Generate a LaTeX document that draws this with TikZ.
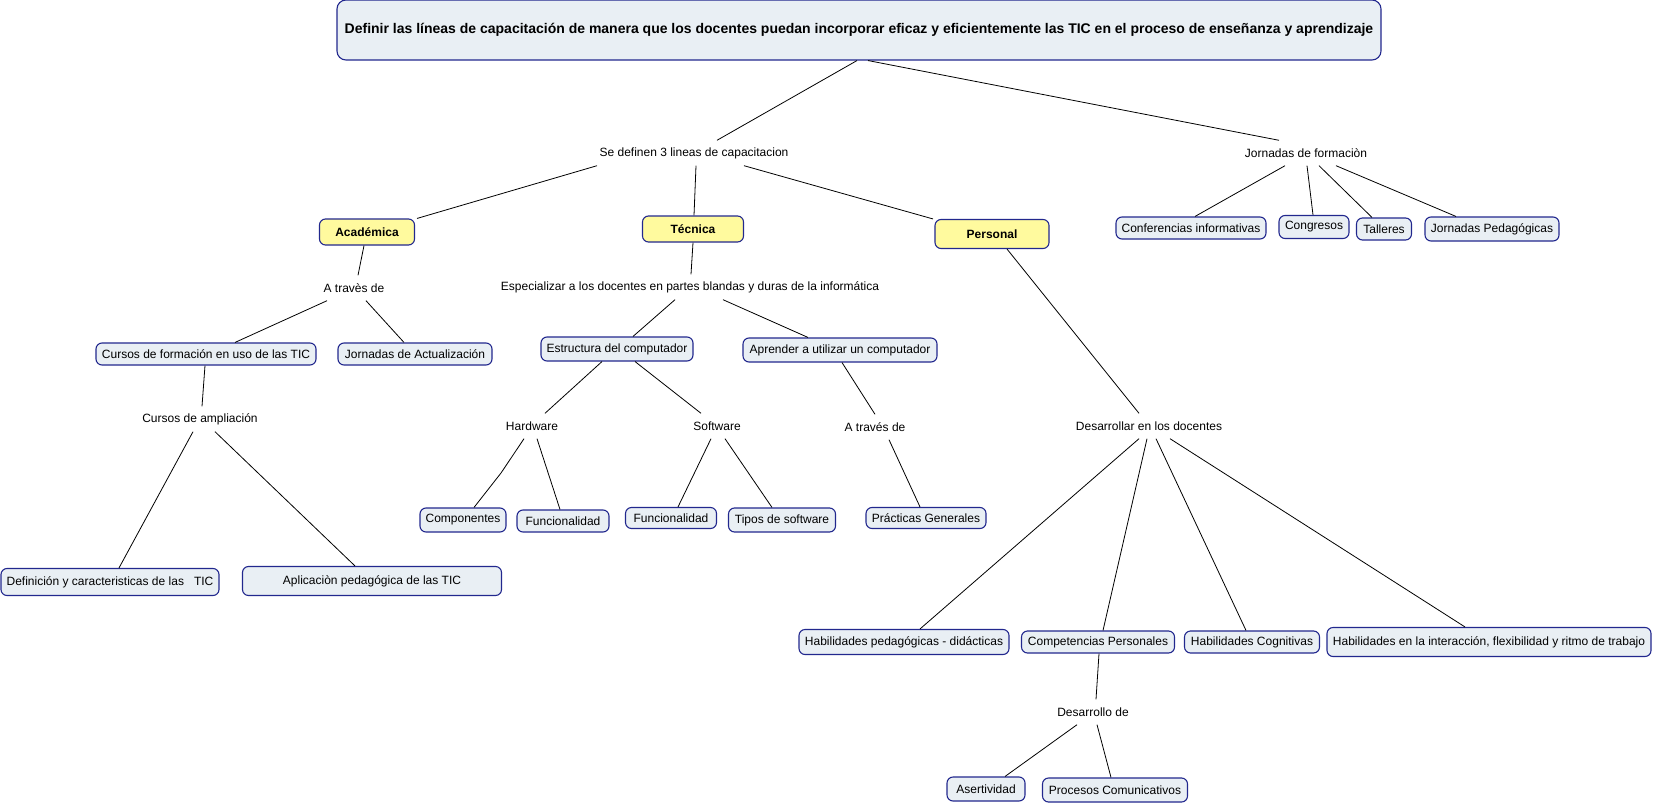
\documentclass[tikz,border=0pt]{standalone}
\usepackage{fontspec}
\setmainfont{Liberation Sans}
\definecolor{boxfill}{HTML}{E9EFF4}
\definecolor{ylw}{HTML}{FFFA9E}
\definecolor{navy}{HTML}{22288E}
\begin{document}
\begin{tikzpicture}[x=1pt,y=-1pt,
  font=\fontsize{12}{14}\selectfont,
  box/.style={draw=navy, line width=1.1pt, fill=boxfill, rounded corners=6pt, inner xsep=4pt, inner ysep=0pt, align=center},
  ybox/.style={box, fill=ylw, font=\fontsize{12}{14}\selectfont\bfseries},
  lbl/.style={inner xsep=2pt, inner ysep=0pt, minimum height=25pt},
  conn/.style={draw=black, line width=0.8pt}
]
\path[use as bounding box, fill=white] (0,0) rectangle (1653,805);

% nodes
\node[box, rounded corners=9pt, minimum width=1044pt, minimum height=60pt, font=\fontsize{14}{16}\selectfont\bfseries] (title) at (859,30) {Definir las líneas de capacitación de manera que los docentes puedan incorporar eficaz y eficientemente las TIC en el proceso de enseñanza y aprendizaje};

\node[lbl] (sedef) at (694,153) {Se definen 3 lineas de capacitacion};
\node[lbl] (jorn) at (1306,153) {Jornadas de formaciòn};

\node[ybox, minimum width=95pt, minimum height=26pt] (acad) at (367,232) {Académica};
\node[ybox, minimum width=101pt, minimum height=26pt] (tecn) at (693,229) {Técnica};
\node[ybox, minimum width=114pt, minimum height=29pt] (pers) at (992,234) {Personal};

\node[box, minimum width=150pt, minimum height=22pt] (conf) at (1191,228) {Conferencias informativas};
\node[box, minimum width=70pt, minimum height=23pt] (cong) at (1314,227) {Congresos};
\node[box, minimum width=55pt, minimum height=22pt] (tall) at (1384,229) {Talleres};
\node[box, minimum width=134pt, minimum height=24pt] (jped) at (1492,229) {Jornadas Pedagógicas};

\node[lbl] (atr1) at (354,288) {A travès de};
\node[box, minimum width=220pt, minimum height=22pt] (cursos) at (206,354) {Cursos de formación en uso de las TIC};
\node[box, minimum width=154pt, minimum height=22pt] (jact) at (415,354) {Jornadas de Actualización};
\node[lbl] (campl) at (200,419) {Cursos de ampliación};
\node[box, minimum width=218pt, minimum height=27pt] (defin) at (110,582) {Definición y caracteristicas de las\ \ \ TIC};
\node[box, minimum width=259pt, minimum height=29pt] (aplic) at (372,581) {Aplicaciòn pedagógica de las TIC};

\node[lbl] (espec) at (690,287) {Especializar a los docentes en partes blandas y duras de la informática};
\node[box, minimum width=152pt, minimum height=24pt] (estr) at (617,349) {Estructura del computador};
\node[box, minimum width=194pt, minimum height=24pt] (apren) at (840,350) {Aprender a utilizar un computador};
\node[lbl] (hard) at (532,426) {Hardware};
\node[lbl] (soft) at (717,426) {Software};
\node[lbl] (atr2) at (875,427) {A través de};
\node[box, minimum width=86pt, minimum height=24pt] (comp) at (463,520) {Componentes};
\node[box, minimum width=92pt, minimum height=22pt] (func1) at (563,521) {Funcionalidad};
\node[box, minimum width=91pt, minimum height=21pt] (func2) at (671,518) {Funcionalidad};
\node[box, minimum width=107pt, minimum height=24pt] (tipos) at (782,520) {Tipos de software};
\node[box, minimum width=120pt, minimum height=21pt] (prac) at (926,518) {Prácticas Generales};

\node[lbl] (desar) at (1149,426) {Desarrollar en los docentes};
\node[box, minimum width=210pt, minimum height=25pt] (hped) at (904,642) {Habilidades pedagógicas - didácticas};
\node[box, minimum width=153pt, minimum height=22pt] (cper) at (1098,642) {Competencias Personales};
\node[box, minimum width=135pt, minimum height=22pt] (hcog) at (1252,642) {Habilidades Cognitivas};
\node[box, minimum width=324pt, minimum height=29pt] (hint) at (1489,642) {Habilidades en la interacción, flexibilidad y ritmo de trabajo};
\node[lbl] (desde) at (1093,712) {Desarrollo de};
\node[box, minimum width=78pt, minimum height=24pt] (aser) at (986,789) {Asertividad};
\node[box, minimum width=145pt, minimum height=24pt] (proc) at (1115,790) {Procesos Comunicativos};

\coordinate (k1) at (501,473);

% connectors
\draw[conn] ([xshift=-2pt]title.south) -- ([xshift=23pt]sedef.north);
\draw[conn] ([xshift=9pt]title.south) -- ([xshift=-27pt]jorn.north);
\draw[conn] ([xshift=-97pt]sedef.south) -- ([xshift=50pt]acad.north);
\draw[conn] ([xshift=2pt]sedef.south) -- ([xshift=1pt]tecn.north);
\draw[conn] ([xshift=50pt]sedef.south) -- ([xshift=-59pt]pers.north);
\draw[conn] ([xshift=-21pt]jorn.south) -- ([xshift=4pt]conf.north);
\draw[conn] ([xshift=1pt]jorn.south) -- ([xshift=-1pt]cong.north);
\draw[conn] ([xshift=13pt]jorn.south) -- ([xshift=-12pt]tall.north);
\draw[conn] ([xshift=30pt]jorn.south) -- ([xshift=-36pt]jped.north);
\draw[conn] ([xshift=-3pt]acad.south) -- ([xshift=4pt]atr1.north);
\draw[conn] ([xshift=-27pt]atr1.south) -- ([xshift=29pt]cursos.north);
\draw[conn] ([xshift=12pt]atr1.south) -- ([xshift=-11pt]jact.north);
\draw[conn] ([xshift=-1pt]cursos.south) -- ([xshift=2pt]campl.north);
\draw[conn] ([xshift=-7pt]campl.south) -- ([xshift=9pt]defin.north);
\draw[conn] ([xshift=15pt]campl.south) -- ([xshift=-17pt]aplic.north);
\draw[conn] (tecn.south) -- ([xshift=1pt]espec.north);
\draw[conn] ([xshift=-15pt]espec.south) -- ([xshift=16pt]estr.north);
\draw[conn] ([xshift=33pt]espec.south) -- ([xshift=-32pt]apren.north);
\draw[conn] ([xshift=-15pt]estr.south) -- ([xshift=13pt]hard.north);
\draw[conn] ([xshift=18pt]estr.south) -- ([xshift=-16pt]soft.north);
\draw[conn] ([xshift=2pt]apren.south) -- (atr2.north);
\draw[conn] ([xshift=-8pt]hard.south) -- (k1) -- ([xshift=11pt]comp.north);
\draw[conn] ([xshift=5pt]hard.south) -- ([xshift=-3pt]func1.north);
\draw[conn] ([xshift=-6pt]soft.south) -- ([xshift=7pt]func2.north);
\draw[conn] ([xshift=8pt]soft.south) -- ([xshift=-10pt]tipos.north);
\draw[conn] ([xshift=14pt]atr2.south) -- ([xshift=-6pt]prac.north);
\draw[conn] ([xshift=15pt]pers.south) -- ([xshift=-10pt]desar.north);
\draw[conn] ([xshift=-10pt]desar.south) -- ([xshift=16pt]hped.north);
\draw[conn] ([xshift=-2pt]desar.south) -- ([xshift=5pt]cper.north);
\draw[conn] ([xshift=7pt]desar.south) -- ([xshift=-6pt]hcog.north);
\draw[conn] ([xshift=21pt]desar.south) -- ([xshift=-24pt]hint.north);
\draw[conn] ([xshift=1pt]cper.south) -- ([xshift=3pt]desde.north);
\draw[conn] ([xshift=-16pt]desde.south) -- ([xshift=19pt]aser.north);
\draw[conn] ([xshift=4pt]desde.south) -- ([xshift=-4pt]proc.north);
\end{tikzpicture}
\end{document}
